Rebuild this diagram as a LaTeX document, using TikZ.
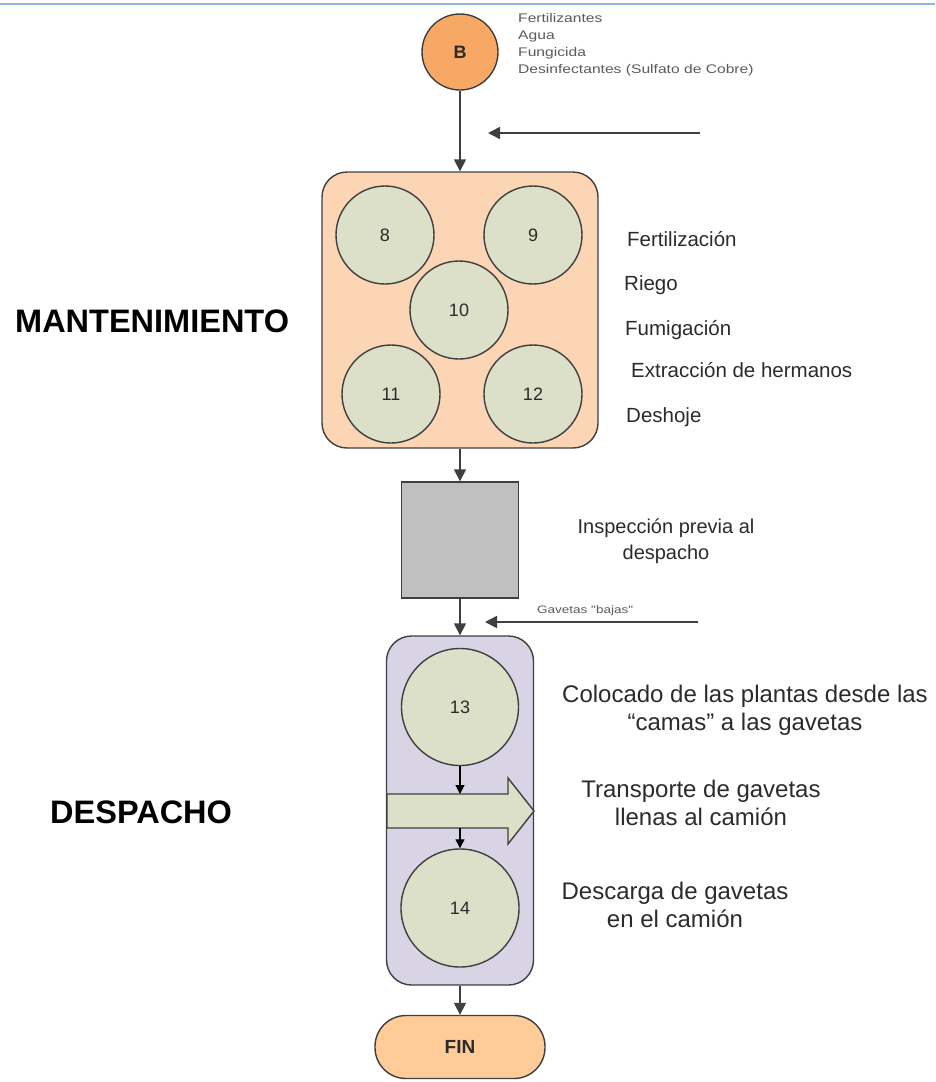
\documentclass[tikz,border=0pt]{standalone}
\usepackage{fontspec}
\setmainfont{Liberation Sans}
\newfontfamily\widefont[FakeStretch=1.25]{Liberation Sans}
\usetikzlibrary{arrows.meta}
\definecolor{edge}{HTML}{3F3F3F}
\definecolor{txt}{HTML}{2B2B2B}
\definecolor{smalltxt}{HTML}{5A5A5A}
\definecolor{topline}{HTML}{8EB4E3}
\definecolor{peach}{HTML}{FCD5B5}
\definecolor{lilac}{HTML}{D9D3E6}
\definecolor{sage}{HTML}{DCE0C8}
\definecolor{boxgray}{HTML}{C0C0C0}
\definecolor{orangeB}{HTML}{F6A864}
\definecolor{finpeach}{HTML}{FFCC99}

\begin{document}
\begin{tikzpicture}[x=1pt,y=-1pt,every node/.style={font=\fontsize{20.5}{25}\selectfont,text=txt},
  blob/.style={circle,draw=edge,line width=1.4pt,fill=sage,inner sep=0pt,font=\fontsize{18}{20}\selectfont},
  note/.style={anchor=base west,inner sep=0pt},
  flow/.style={draw=edge,line width=1.6pt,-{Triangle[length=12pt,width=12pt]}},
  thinflow/.style={draw=black,line width=1.2pt,-{Triangle[length=9pt,width=9pt]}}]
\useasboundingbox (0,0) rectangle (935,1082);
\draw[line width=2pt,topline](0,4)--(935,4);
% inicio
\node[circle,draw=edge,line width=1.4pt,fill=orangeB,minimum size=76pt,inner sep=0pt,font=\bfseries\fontsize{18}{20}\selectfont](B) at (460,52){B};
\node[anchor=north west,align=left,inner sep=0pt,text=smalltxt,font=\widefont\fontsize{12.5}{17}\selectfont](insumos) at (518,13){Fertilizantes\\Agua\\Fungicida\\Desinfectantes (Sulfato de Cobre)};
\coordinate (inA) at (700,133); \coordinate (inAend) at (488,133);
\draw[flow](inA)--(inAend);
% mantenimiento
\node[draw=edge,line width=1.4pt,fill=peach,rounded corners=25pt,minimum width=276pt,minimum height=276pt](mant) at (460,310){};
\node[blob,minimum size=98pt](n8) at (385,235){8};
\node[blob,minimum size=98pt](n9) at (533,235){9};
\node[blob,minimum size=98pt](n10) at (459,310){10};
\node[blob,minimum size=98pt](n11) at (391,394){11};
\node[blob,minimum size=98pt](n12) at (533,394){12};
\draw[flow](B)--(mant);
\node[note](lfert) at (627,246){Fertilización};
\node[note](lriego) at (624,290){Riego};
\node[note](lfum) at (625,335){Fumigación};
\node[note](lext) at (631,377){Extracción de hermanos};
\node[note](ldesh) at (626,422){Deshoje};
\node[note,text=black,font=\bfseries\fontsize{32.5}{36}\selectfont](lmant) at (15,332){MANTENIMIENTO};
% inspeccion
\node[draw=edge,line width=1.4pt,fill=boxgray,minimum width=117pt,minimum height=116pt](insp) at (460,540){};
\draw[flow](mant)--(insp);
\node[align=center,font=\fontsize{20}{26}\selectfont](linsp) at (666,541){Inspección previa al\\despacho};
\coordinate (inG) at (698,622); \coordinate (inGend) at (485,622);
\draw[flow](inG)--(inGend);
\node[note,text=smalltxt,font=\widefont\fontsize{10.8}{12}\selectfont](lgav) at (537,613){Gavetas "bajas"};
% despacho
\node[draw=edge,line width=1.4pt,fill=lilac,rounded corners=25pt,minimum width=147pt,minimum height=349pt](desp) at (460,810.5){};
\draw[flow](insp)--(desp);
\node[blob,minimum size=117pt](n13) at (460,707){13};
\node[blob,minimum size=118pt](n14) at (460,908){14};
\draw[draw=edge,line width=1.4pt,fill=sage](387,794)--(508,794)--(508,778)--(534,811)--(508,844)--(508,828)--(387,828)--cycle;
\coordinate (bandtop) at (460,794); \coordinate (bandbot) at (460,828);
\draw[thinflow](n13)--(bandtop);
\draw[thinflow](bandbot)--(n14);
\node[align=center,font=\fontsize{24}{28}\selectfont](lcol) at (745,710){Colocado de las plantas desde las\\“camas” a las gavetas};
\node[align=center,font=\fontsize{24}{28}\selectfont](ltrans) at (701,803){Transporte de gavetas\\llenas al camión};
\node[align=center,font=\fontsize{24}{28}\selectfont](ldesc) at (675,905){Descarga de gavetas\\en el camión};
\node[note,text=black,font=\bfseries\fontsize{32.5}{36}\selectfont](ldesp) at (50,823){DESPACHO};
% fin
\node[draw=edge,line width=1.4pt,fill=finpeach,rounded corners=31pt,minimum width=170pt,minimum height=63pt,font=\bfseries\fontsize{19}{20}\selectfont](fin) at (460,1047){FIN};
\draw[flow](desp)--(fin);
\end{tikzpicture}
\end{document}
